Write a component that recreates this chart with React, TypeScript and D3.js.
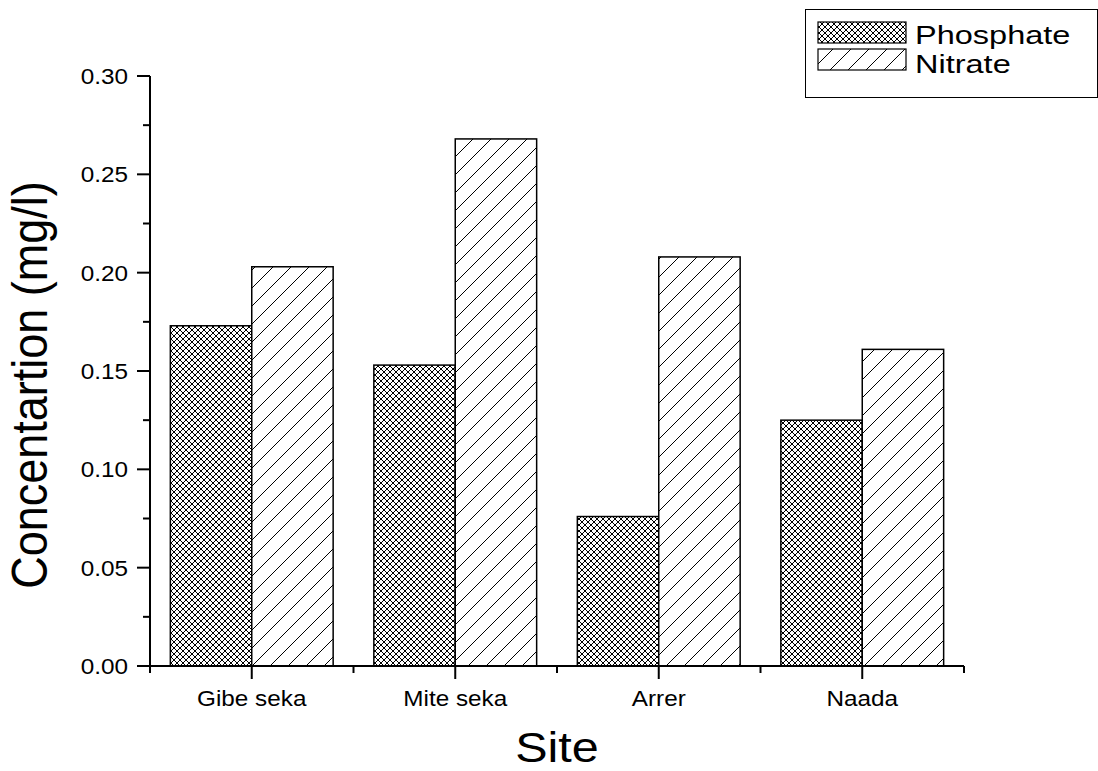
import React from "react";
import * as d3 from "d3";

// Sites sampled and measured nutrient concentrations (mg/l)
const sites = ["Gibe seka", "Mite seka", "Arrer", "Naada"];
const seriesNames = ["Phosphate", "Nitrate"];
const phosphate = [0.173, 0.153, 0.076, 0.125];
const nitrate = [0.203, 0.268, 0.208, 0.161];
const yTicks = [0, 0.05, 0.1, 0.15, 0.2, 0.25, 0.3];

const W = 1098;
const H = 771;
const FONT = "Arial, 'Liberation Sans', Helvetica, sans-serif";
const SX = 1.13; // horizontal stretch for lettering

const patternIds: Record<string, string> = {
  Phosphate: "hatch-cross",
  Nitrate: "hatch-slash",
};

function SText({
  x,
  y,
  size,
  anchor = "start",
  rotate = 0,
  sx = SX,
  children,
}: {
  x: number;
  y: number;
  size: number;
  anchor?: "start" | "middle" | "end";
  rotate?: number;
  sx?: number;
  children: React.ReactNode;
}) {
  return (
    <text
      transform={`translate(${x},${y}) scale(${sx},1)${rotate ? ` rotate(${rotate})` : ""}`}
      fontFamily={FONT}
      fontSize={size}
      textAnchor={anchor}
      fill="#000"
    >
      {children}
    </text>
  );
}

export default function App() {
  const x = d3
    .scaleBand<string>()
    .domain(sites)
    .range([150, 964])
    .paddingInner(0.2)
    .paddingOuter(0.1);
  const xs = d3
    .scaleBand<string>()
    .domain(seriesNames)
    .range([0, x.bandwidth()]);
  const y = d3.scaleLinear().domain([0, 0.3]).range([666, 76]);

  const values: Record<string, number[]> = {
    Phosphate: phosphate,
    Nitrate: nitrate,
  };

  const step = x.step();
  const [x0, x1] = x.range();
  const minorX = d3.range(sites.length + 1).map((i) => x0 + i * step);
  const yMinor = d3.range(0.025, 0.3, 0.05);

  return (
    <svg
      width={W}
      height={H}
      style={{ position: "absolute", left: 0, top: 0, background: "#fff" }}
    >
      <defs>
        <pattern
          id="hatch-cross"
          patternUnits="userSpaceOnUse"
          width={6}
          height={6}
        >
          <rect width={6} height={6} fill="#fff" />
          <path
            d="M0,0 L6,6 M6,0 L0,6"
            stroke="#000"
            strokeWidth={1}
          />
        </pattern>
        <pattern
          id="hatch-slash"
          patternUnits="userSpaceOnUse"
          width={18}
          height={18}
        >
          <rect width={18} height={18} fill="#fff" />
          <path
            d="M-2,20 L20,-2 M-5,5 L5,-5 M13,23 L23,13"
            stroke="#000"
            strokeWidth={1}
          />
        </pattern>
      </defs>

      {/* bars */}
      {sites.map((s, i) => (
        <g key={s}>
          {seriesNames.map((name) => {
            const v = values[name][i];
            const bx = (x(s) as number) + (xs(name) as number);
            return (
              <rect
                key={name}
                x={bx}
                y={y(v)}
                width={xs.bandwidth()}
                height={y(0) - y(v)}
                fill={`url(#${patternIds[name]})`}
                stroke="#000"
                strokeWidth={1.5}
              />
            );
          })}
        </g>
      ))}

      {/* y axis */}
      <line x1={x0} x2={x0} y1={y(0.3)} y2={y(0)} stroke="#000" strokeWidth={2} />
      {yTicks.map((t) => (
        <g key={t}>
          <line x1={x0 - 13} x2={x0} y1={y(t)} y2={y(t)} stroke="#000" strokeWidth={2} />
          <SText x={x0 - 22} y={y(t) + 8} size={21.5} anchor="end">
            {d3.format(".2f")(t)}
          </SText>
        </g>
      ))}
      {yMinor.map((t) => (
        <line key={t} x1={x0 - 7} x2={x0} y1={y(t)} y2={y(t)} stroke="#000" strokeWidth={2} />
      ))}

      {/* x axis */}
      <line x1={x0} x2={x1} y1={y(0)} y2={y(0)} stroke="#000" strokeWidth={2} />
      {minorX.map((mx) => (
        <line key={mx} x1={mx} x2={mx} y1={y(0)} y2={y(0) + 7} stroke="#000" strokeWidth={2} />
      ))}
      {sites.map((s) => {
        const cx = (x(s) as number) + x.bandwidth() / 2;
        return (
          <g key={s}>
            <line x1={cx} x2={cx} y1={y(0)} y2={y(0) + 13} stroke="#000" strokeWidth={2} />
            <SText x={cx} y={706} size={21.5} anchor="middle">
              {s}
            </SText>
          </g>
        );
      })}

      {/* axis titles */}
      <SText x={(x0 + x1) / 2} y={762} size={43} anchor="middle">
        Site
      </SText>
      <SText x={47} y={385} size={45} anchor="middle" rotate={-90}>
        Concentartion (mg/l)
      </SText>

      {/* legend */}
      <rect x={805.5} y={9.5} width={292} height={88} fill="#fff" stroke="#000" strokeWidth={1} />
      {seriesNames.map((name, i) => (
        <g key={name}>
          <rect
            x={818}
            y={22 + i * 27}
            width={88}
            height={21}
            fill={`url(#${patternIds[name]})`}
            stroke="#000"
            strokeWidth={1.2}
          />
          <SText x={915} y={44 + i * 29} size={26} sx={1.25}>
            {name}
          </SText>
        </g>
      ))}
    </svg>
  );
}
